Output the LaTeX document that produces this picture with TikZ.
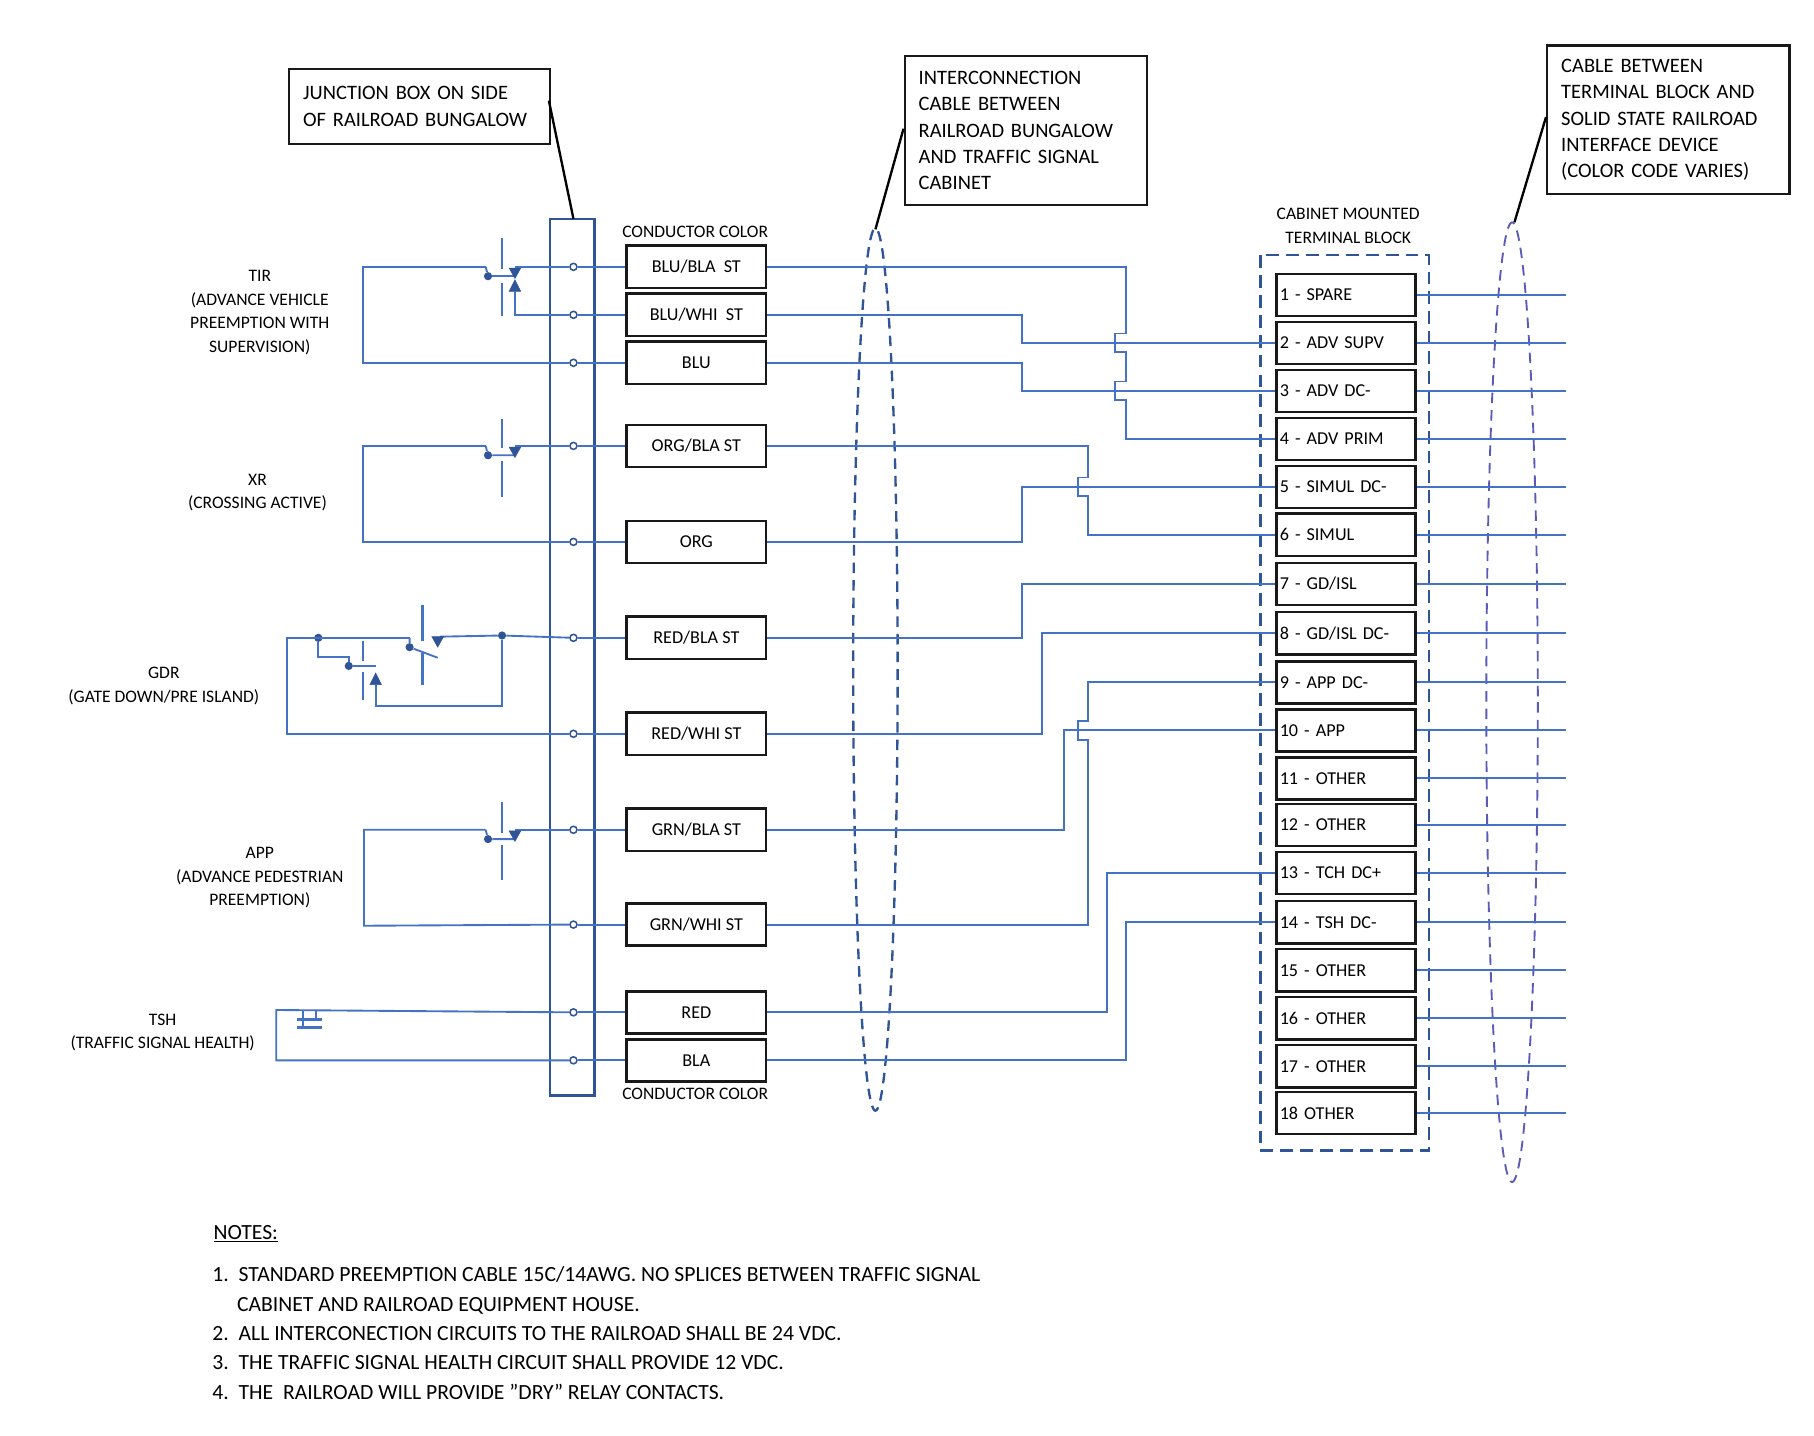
\documentclass[tikz,border=0pt]{standalone}
\usepackage{fontspec}
\setmainfont{Carlito}
\definecolor{wire}{HTML}{4472C4}
\definecolor{dkb}{HTML}{2F5597}
\definecolor{purp}{HTML}{5B5BB5}
\begin{document}
\begin{tikzpicture}[x=1pt,y=-1pt,
  wire/.style={draw=wire,line width=1.6pt},
  cbox/.style={draw=black!90,line width=2.2pt,minimum width=119pt,minimum height=36pt,inner sep=0pt,font=\fontsize{15.5}{15.5}\selectfont},
  tbox/.style={draw=black!90,line width=2.2pt,minimum width=119pt,minimum height=36pt,inner sep=3pt,text width=113pt,align=left,font=\fontsize{15.5}{15.5}\selectfont},
  call/.style={draw=black!90,line width=2pt,align=left,inner xsep=12pt,inner ysep=4pt,font=\fontsize{17.5}{22.5}\selectfont},
  lab/.style={align=center,font=\fontsize{15}{20}\selectfont},
  term/.style={circle,draw=dkb,fill=white,line width=1.3pt,inner sep=0pt,minimum size=6pt},
  dot/.style={circle,fill=dkb,inner sep=0pt,minimum size=7pt},
  tri/.style={fill=dkb,draw=dkb},
  jb/.style={draw=dkb,line width=2.2pt}]
\useasboundingbox (0,0) rectangle (1550,1227);
% junction box
\draw[jb] (470,187) rectangle (508,936);
% callouts
\node[call,anchor=north west,text width=199pt,minimum height=64pt] (c1) at (246,58) {JUNCTION BOX ON SIDE\\OF RAILROAD BUNGALOW};
\node[call,anchor=north west,text width=183pt,minimum height=127pt] (c2) at (772,47) {INTERCONNECTION\\CABLE BETWEEN\\RAILROAD BUNGALOW\\AND TRAFFIC SIGNAL\\CABINET};
\node[call,anchor=north west,text width=183pt,minimum height=127pt] (c3) at (1321,38) {CABLE BETWEEN\\TERMINAL BLOCK AND\\SOLID STATE RAILROAD\\INTERFACE DEVICE\\(COLOR CODE VARIES)};
\coordinate (l1) at (490,187); \coordinate (l2) at (748,196); \coordinate (l3) at (1294,190);
\draw[line width=2pt] (469,86) -- (l1);
\draw[line width=2pt] (772,110) -- (l2);
\draw[line width=2pt] (1321,100) -- (l3);
% ellipses
\draw[dkb,line width=2pt,dash pattern=on 9pt off 6pt] (748,572) ellipse (19 and 377);
\draw[purp,line width=1.6pt,dash pattern=on 9pt off 6pt] (1292,600) ellipse (22 and 410);
% labels
\node[font=\fontsize{15}{15}\selectfont] (cc1) at (594,198) {CONDUCTOR COLOR};
\node[font=\fontsize{15}{15}\selectfont] (cc2) at (594,935) {CONDUCTOR COLOR};
\node[lab] (tbl) at (1152,193) {CABINET MOUNTED\\TERMINAL BLOCK};
\node[lab] (tir) at (222,267) {TIR\\(ADVANCE VEHICLE\\PREEMPTION WITH\\SUPERVISION)};
\node[lab] (xr) at (220,421) {XR\\(CROSSING ACTIVE)};
\node[lab] (gdr) at (140,586) {GDR\\(GATE DOWN/PRE ISLAND)};
\node[lab] (app) at (222,750) {APP\\(ADVANCE PEDESTRIAN\\PREEMPTION)};
\node[lab] (tsh) at (139,882) {TSH\\(TRAFFIC SIGNAL HEALTH)};
% conductor boxes
\foreach \n/\y/\t in {a/228/{BLU/BLA\ \ ST},b/269/{BLU/WHI\ \ ST},c/310/{BLU},d/381/{ORG/BLA ST},e/463/{ORG},f/545/{RED/BLA\ ST},g/627/{RED/WHI ST},h/709/{GRN/BLA ST},i/790/{GRN/WHI ST},j/865/{RED},k/906/{BLA}}
  {\node[cbox] (cb\n) at (595,\y) {\t};}
% terminal block
\draw[dkb,line width=2.2pt,dash pattern=on 11pt off 6pt] (1077,218) rectangle (1221,983);
\foreach \i/\y/\t in {1/252/{1 - SPARE},2/293/{2 - ADV SUPV},3/334/{3 - ADV DC-},4/375/{4 - ADV PRIM},5/416/{5 - SIMUL DC-},6/457/{6 - SIMUL},7/499/{7 - GD/ISL},8/541/{8 - GD/ISL DC-},9/583/{9 - APP DC-},10/624/{10 - APP},11/665/{11 - OTHER},12/705/{12 - OTHER},13/746/{13 - TCH DC+},14/788/{14 - TSH DC-},15/829/{15 - OTHER},16/870/{16 - OTHER},17/911/{17 - OTHER},18/951/{18 OTHER}}
  {\node[tbox] (tb\i) at (1150,\y) {\t};
   \coordinate (o\i) at (1338,\y);
   \draw[wire] (tb\i.east) -- (o\i);}
% terminals on junction box
\foreach \n/\y in {a/228,b/269,c/310,d/381,e/463,f/545,g/627,h/709,i/790,j/865,k/906}
  {\node[term] (t\n) at (490,\y) {};
   \draw[wire] (t\n) -- (cb\n.west);}
% cable wiring
\draw[wire] (cba.east) -- (962,228) -- (962,285) -- (953,285) -- (953,301) -- (962,301) -- (962,326) -- (953,326) -- (953,342) -- (962,342) -- (962,375) -- (tb4.west);
\draw[wire] (cbb.east) -- (873,269) -- (873,293) -- (tb2.west);
\draw[wire] (cbc.east) -- (873,310) -- (873,334) -- (tb3.west);
\draw[wire] (cbd.east) -- (930,381) -- (930,408) -- (921,408) -- (921,424) -- (930,424) -- (930,457) -- (tb6.west);
\draw[wire] (cbe.east) -- (873,463) -- (873,416) -- (tb5.west);
\draw[wire] (cbf.east) -- (873,545) -- (873,499) -- (tb7.west);
\draw[wire] (cbg.east) -- (890,627) -- (890,541) -- (tb8.west);
\draw[wire] (cbh.east) -- (909,709) -- (909,624) -- (tb10.west);
\draw[wire] (cbi.east) -- (930,790) -- (930,632) -- (921,632) -- (921,616) -- (930,616) -- (930,583) -- (tb9.west);
\draw[wire] (cbj.east) -- (946,865) -- (946,746) -- (tb13.west);
\draw[wire] (cbk.east) -- (962,906) -- (962,788) -- (tb14.west);
% TIR circuit
\draw[wire] (ta) -- (440,228);
\draw[wire] (415,228) -- (310,228) -- (310,310) -- (tc);
\draw[wire,line width=2pt] (429,203) -- (429,230) (429,242) -- (429,270);
\node[dot] (d1) at (417,236) {};
\draw[wire] (d1) -- (440,236);
\draw[wire] (415,228) -- (d1);
\fill[tri] (435,229) -- (445,229) -- (440,238) -- cycle;
\fill[tri] (435,249) -- (445,249) -- (440,239) -- cycle;
\draw[wire] (440,249) -- (440,269) -- (tb);
% XR
\draw[wire] (td) -- (440,381);
\draw[wire] (415,381) -- (310,381) -- (310,463) -- (te);
\draw[wire,line width=2pt] (429,358) -- (429,383) (429,394) -- (429,425);
\node[dot] (d2) at (417,389) {};
\draw[wire] (415,381) -- (d2) -- (440,389);
\fill[tri] (435,382) -- (445,382) -- (440,391) -- cycle;
% GDR
\node[dot] (d3) at (272,545) {};
\node[dot] (d4) at (429,543) {};
\node[dot] (d5) at (350,553) {};
\node[dot] (d6) at (298,569) {};
\draw[wire] (tf) -- (d4) -- (376,544);
\draw[wire] (350,545) -- (245,545) -- (245,627) -- (tg);
\draw[wire] (350,545) -- (d5) -- (374,562);
\draw[wire,line width=2pt] (361,517) -- (361,548) (361,558) -- (361,585);
\fill[tri] (369,544) -- (379,544) -- (374,553) -- cycle;
\draw[wire] (d3) -- (272,561) -- (298,561) -- (d6) -- (321,569);
\draw[wire,line width=2pt] (310,548) -- (310,565) (310,574) -- (310,598);
\fill[tri] (316,585) -- (326,585) -- (321,575) -- cycle;
\draw[wire] (321,585) -- (321,603) -- (429,603) -- (d4);
% APP
\draw[wire] (th) -- (440,709);
\draw[wire] (415,709) -- (311,709) -- (311,791) -- (ti);
\draw[wire,line width=2pt] (429,685) -- (429,712) (429,722) -- (429,752);
\node[dot] (d7) at (417,717) {};
\draw[wire] (415,709) -- (d7) -- (440,717);
\fill[tri] (435,710) -- (445,710) -- (440,719) -- cycle;
% TSH
\draw[wire] (tj) -- (236,863) -- (236,906) -- (tk);
\draw[wire] (259,863) -- (259,871) (270,863) -- (270,871);
\draw[wire,line width=2pt] (254,871) -- (275,871) (254,878) -- (275,878);
\draw[wire] (259,871) -- (259,878);
% notes
\node[anchor=west,font=\fontsize{18.5}{18.5}\selectfont] (nt) at (179,1060) {\underline{\smash{NOTES:}}};
\node[anchor=north west,align=left,font=\fontsize{18.5}{25}\selectfont] (nb) at (178,1079) {1.\ \ STANDARD PREEMPTION CABLE 15C/14AWG. NO SPLICES BETWEEN TRAFFIC SIGNAL\\\hspace*{21pt}CABINET AND RAILROAD EQUIPMENT HOUSE.\\2.\ \ ALL INTERCONECTION CIRCUITS TO THE RAILROAD SHALL BE 24 VDC.\\3.\ \ THE TRAFFIC SIGNAL HEALTH CIRCUIT SHALL PROVIDE 12 VDC.\\4.\ \ THE\ \ RAILROAD WILL PROVIDE \symbol{34}DRY\symbol{34} RELAY CONTACTS.};
\end{tikzpicture}
\end{document}
